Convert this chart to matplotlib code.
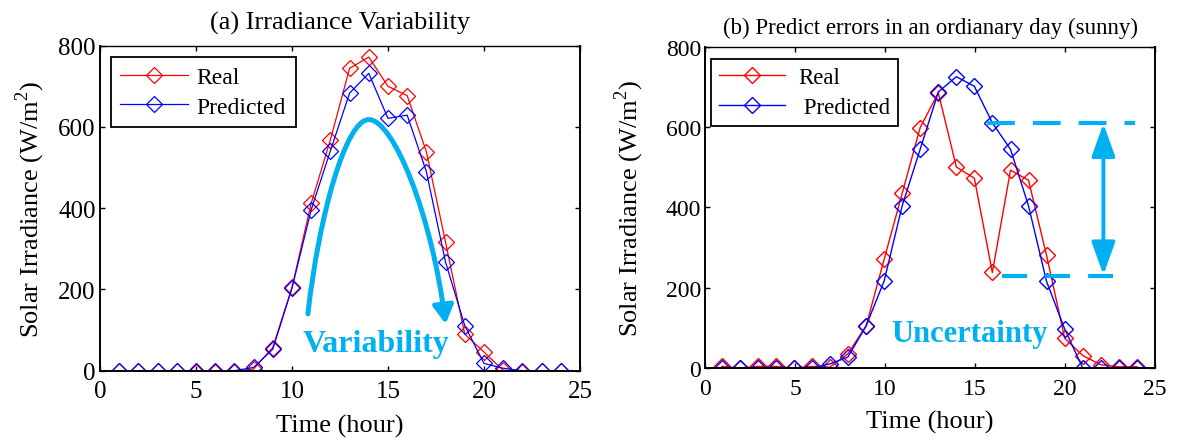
import numpy as np
import matplotlib
matplotlib.use('Agg')
import matplotlib.pyplot as plt
from matplotlib.path import Path
from matplotlib.patches import FancyArrowPatch

plt.rcParams['font.family'] = ['Liberation Serif', 'DejaVu Serif']
plt.rcParams['mathtext.fontset'] = 'custom'
plt.rcParams['mathtext.rm'] = 'Liberation Serif'
plt.rcParams['lines.scale_dashes'] = False

# (a) Irradiance variability, hourly values
hours_a = [1, 2, 3, 4, 5, 6, 7, 8, 9, 10, 11, 12, 13, 14, 15, 16, 17, 18, 19, 20, 21, 22, 23, 24]
real_a = [0, 0, 0, 0, -2, -2, -2, 4, 57, 205, 412, 568, 744, 772, 700, 677, 539, 316, 90, 46, 1, -2, 0, 0]
pred_a = [0, 0, 0, 0, 0, 0, 0, 8, 53, 203, 396, 541, 683, 732, 621, 629, 490, 267, 111, 18, 6, 0, 0, 0]

# (b) Predict errors in an ordinary day
hours_b = [0.93, 1.93, 2.93, 3.93, 4.93, 5.93, 6.93, 7.93, 8.95, 9.95, 10.95, 11.95,
           12.96, 13.96, 14.96, 15.96, 16.97, 17.97, 18.97, 19.98, 20.98, 21.99, 22.99, 24.0]
real_b = [4, 0, 4, 4, 0, 4, 2, 35, 105, 271, 435, 599, 686, 501, 473, 238, 493, 468, 281, 74, 31, 8, 3, 3]
pred_b = [0, 0, 0, 0, 0, 0, 10, 27, 105, 217, 404, 545, 688, 726, 702, 611, 545, 404, 216, 97, 0, 0, 0, 0]

# annotation geometry (data units)
arc_a = [(10.83, 140), (11.4, 380), (12.8, 618), (14.0, 618),
         (15.3, 618), (17.3, 380), (18.0, 115)]
upper_dash_b = ([15.65, 23.9], [611, 611])
lower_dash_b = ([16.48, 22.68], [230, 230])
arrow_b_x = 22.13
arrow_b_y = (232, 609)

hl = '#00b0f0'

fig = plt.figure(figsize=(11.79, 4.39), dpi=100)
axa = fig.add_axes([0.0848, 0.1533, 0.4071, 0.7404])
axb = fig.add_axes([0.598, 0.1595, 0.3817, 0.7312])


def style_axes(ax, tick_size, ylabelpad):
    ax.set_xlim(0, 25)
    ax.set_ylim(0, 800)
    ax.set_xticks([0, 5, 10, 15, 20, 25])
    ax.set_yticks([0, 200, 400, 600, 800])
    ax.tick_params(direction='in', top=True, right=True, length=3.5, width=1,
                   labelsize=tick_size)
    ax.tick_params(axis='x', pad=7)
    ax.tick_params(axis='y', pad=3)
    for s in ax.spines.values():
        s.set_linewidth(1.4)
    ax.spines['top'].set_linewidth(1.0)
    ax.set_xlabel('Time (hour)', fontsize=19, labelpad=8)
    ax.set_ylabel('Solar Irradiance (W/m$^2$)', fontsize=19, labelpad=ylabelpad)


# ---- panel (a)
axa.plot(hours_a, real_a, color='r', lw=0.9, marker='D', ms=7.8, mfc='none',
         mec='r', mew=0.9, label='Real')
axa.plot(hours_a, pred_a, color='b', lw=0.9, marker='D', ms=7.8, mfc='none',
         mec='b', mew=0.9, label='Predicted')
style_axes(axa, 18, 8.5)
axa.set_title('(a) Irradiance Variability', fontsize=19, pad=12)
leg = axa.legend(loc='upper left', bbox_to_anchor=(0.022, 0.964), fontsize=17,
                 fancybox=False, framealpha=1, edgecolor='k', handlelength=2.9,
                 handletextpad=0.35, borderpad=0.4, labelspacing=0.33,
                 borderaxespad=0)
leg.get_frame().set_linewidth(1.3)

codes = [Path.MOVETO, Path.CURVE4, Path.CURVE4, Path.CURVE4,
         Path.CURVE4, Path.CURVE4, Path.CURVE4]
arc = FancyArrowPatch(path=Path(arc_a, codes),
                      arrowstyle='-|>,head_length=0.6,head_width=0.34',
                      mutation_scale=18, color=hl, lw=3.6)
axa.add_patch(arc)
axa.text(14.4, 66, 'Variability', color=hl, fontsize=23, fontweight='bold',
         ha='center', va='center')

# ---- panel (b)
axb.plot(hours_b, real_b, color='r', lw=1.0, marker='D', ms=8.6, mfc='none',
         mec='r', mew=1.0, label='Real')
axb.plot(hours_b, pred_b, color='b', lw=1.0, marker='D', ms=8.6, mfc='none',
         mec='b', mew=1.0, label=' Predicted')
style_axes(axb, 17, 14)
axb.set_title('(b) Predict errors in an ordianary day (sunny)', fontsize=16.5, pad=10)
leg = axb.legend(loc='upper left', bbox_to_anchor=(0.013, 0.963), fontsize=16.5,
                 fancybox=False, framealpha=1, edgecolor='k', handlelength=2.9,
                 handletextpad=0.55, borderpad=0.35, labelspacing=0.38,
                 borderaxespad=0)
leg.get_frame().set_linewidth(1.3)

axb.plot(*upper_dash_b, color=hl, lw=3.0, dashes=(20, 13))
axb.plot(*lower_dash_b, color=hl, lw=3.0, dashes=(18, 13))
axb.annotate('', xy=(arrow_b_x, arrow_b_y[1]), xytext=(arrow_b_x, arrow_b_y[0]),
             arrowprops=dict(arrowstyle='<|-|>,head_length=1.0,head_width=0.36',
                             mutation_scale=20, color=hl, lw=2.8,
                             shrinkA=0, shrinkB=0))
axb.text(14.7, 85, 'Uncertainty', color=hl, fontsize=22, fontweight='bold',
         ha='center', va='center')

fig.savefig('out.png', dpi=100)
